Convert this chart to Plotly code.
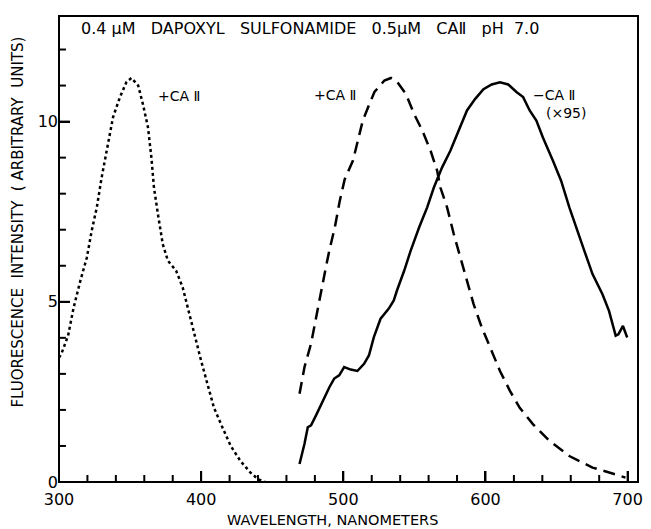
import plotly.graph_objects as go

# Dotted curve: +CA II (excitation-like band)
dot_nm = [300, 301.7, 306.4, 310.3, 315, 319.6, 323, 326.6, 330, 334.7, 338, 342.9, 347.5, 351, 355.7,
          359, 362.6, 365, 366.8, 369.6, 373, 376.6, 382.4, 387, 390.5, 395, 400, 404.5, 409, 415,
          420.8, 427.7, 434.7, 440, 445]
dot_val = [3.45, 3.56, 4.06, 4.84, 5.58, 6.23, 6.97, 7.62, 8.45, 9.38, 10.12, 10.68, 11.1, 11.21, 11.0,
           10.49, 9.84, 9.0, 8.17, 7.43, 6.6, 6.14, 5.86, 5.4, 4.84, 4.1, 3.36, 2.71, 2.06, 1.51,
           1.0, 0.58, 0.26, 0.08, 0.0]

# Dashed curve: +CA II emission
dash_nm = [469.2, 472.7, 477.3, 480.8, 484.3, 487.8, 490.2, 494, 497.5, 501, 506.8, 510.2, 513.7,
           518.4, 521.9, 528.9, 533.5, 538.1, 544, 549.8, 555.6, 561.4, 566, 568.3, 573, 577.7,
           582.3, 587, 591.6, 597.4, 603.2, 610.2, 617.2, 624.1, 633.5, 645, 659, 675.3, 691.6, 698.5]
dash_val = [2.45, 3.19, 3.84, 4.58, 5.32, 5.97, 6.43, 7.06, 7.8, 8.4, 8.92, 9.47, 10.03,
            10.49, 10.82, 11.14, 11.21, 11.09, 10.77, 10.21, 9.75, 9.19, 8.64, 8.17, 7.62, 6.88,
            6.23, 5.58, 4.94, 4.29, 3.73, 3.08, 2.53, 2.06, 1.6, 1.14, 0.72, 0.4, 0.21, 0.12]

# Solid curve: -CA II emission (x95)
sol_nm = [469.2, 472.7, 475, 477.3, 480.8, 485.5, 490.2, 493.6, 497.1, 500.6, 505.2, 509.9, 514.6,
          518, 521.5, 526.2, 532, 535.5, 537.8, 542.8, 547.4, 553.3, 559, 563.7, 569.5, 575.3,
          581.2, 587, 592.8, 598.6, 604.4, 610.2, 616, 621.8, 626.5, 631.1, 635.8, 640.4, 647.4,
          653.2, 659, 663.7, 669.5, 675.3, 682.3, 686.9, 691.6, 693.5, 696.7, 699.7]
sol_val = [0.5, 1.06, 1.52, 1.57, 1.85, 2.26, 2.63, 2.87, 2.96, 3.19, 3.12, 3.08, 3.28,
           3.51, 4.02, 4.53, 4.81, 5.04, 5.32, 5.86, 6.42, 7.06, 7.62, 8.17, 8.73, 9.19,
           9.75, 10.31, 10.63, 10.9, 11.03, 11.09, 11.03, 10.82, 10.68, 10.31, 10.03, 9.56, 8.92,
           8.36, 7.62, 7.06, 6.42, 5.77, 5.21, 4.75, 4.06, 4.1, 4.33, 4.01]

x_major_ticks = [300, 400, 500, 600, 700]
x_minor_ticks = [320, 340, 360, 380, 420, 440, 460, 480, 520, 540, 560, 580,
                 620, 640, 660, 680]
y_major_ticks = [0, 5, 10]
y_minor_ticks = [1, 2, 3, 4, 6, 7, 8, 9, 11, 12]
x_range = [300, 707.3]
y_range = [0, 12.93]

FONT = "DejaVu Sans"
PLOT_W, PLOT_H = 584, 465.5

fig = go.Figure()
fig.add_trace(go.Scatter(x=dot_nm, y=dot_val, mode="lines",
                         line=dict(color="black", width=2.5, dash="dot"), showlegend=False))
fig.add_trace(go.Scatter(x=dash_nm, y=dash_val, mode="lines",
                         line=dict(color="black", width=2.5, dash="12px,7px"), showlegend=False))
fig.add_trace(go.Scatter(x=sol_nm, y=sol_val, mode="lines",
                         line=dict(color="black", width=2.5), showlegend=False))

fig.update_layout(
    width=651, height=529,
    margin=dict(l=59, r=8, t=16, b=47),
    paper_bgcolor="white", plot_bgcolor="white",
    font=dict(family=FONT, color="black"),
    xaxis=dict(range=x_range, tickmode="array", tickvals=x_major_ticks,
               ticks="inside", ticklen=11, tickwidth=2, ticklabelstandoff=6,
               tickcolor="black", showline=False,
               showgrid=False, zeroline=False, tickfont=dict(size=16, family=FONT)),
    yaxis=dict(range=y_range, tickmode="array", tickvals=y_major_ticks,
               ticks="inside", ticklen=11, tickwidth=2,
               tickcolor="black", showline=False,
               showgrid=False, zeroline=False, tickfont=dict(size=16, family=FONT)),
)

# tick marks pointing into the plot (drawn from the tick lists)
for t in x_major_ticks + x_minor_ticks:
    ln = 11 if t in x_major_ticks else 7
    fig.add_shape(type="line", xref="x", yref="y domain", x0=t, x1=t, y0=0, y1=ln / PLOT_H,
                  line=dict(color="black", width=2), layer="above")
for t in y_major_ticks + y_minor_ticks:
    ln = 11 if t in y_major_ticks else 7
    fig.add_shape(type="line", xref="x domain", yref="y", x0=0, x1=ln / PLOT_W, y0=t, y1=t,
                  line=dict(color="black", width=2), layer="above")

# frame around the plot area
fig.add_shape(type="rect", xref="paper", yref="paper", x0=0, x1=1, y0=0, y1=1,
              line=dict(color="black", width=2), fillcolor="rgba(0,0,0,0)", layer="above")

ann_font = dict(family=FONT, size=14, color="black")
sp = "\u00a0\u00a0\u00a0"
fig.add_annotation(x=313.9, y=12.57, xref="x", yref="y", xanchor="left", yanchor="middle",
                   text="0.4\u00a0μM" + sp + "DAPOXYL" + sp + "SULFONAMIDE" + sp + "0.5μM" + sp
                        + "CAⅡ" + sp + "pH" + "\u00a0\u00a07.0",
                   showarrow=False, font=dict(family=FONT, size=16, color="black"))
fig.add_annotation(x=368.3, y=10.71, xanchor="left", yanchor="middle", text="+CA\u00a0Ⅱ",
                   showarrow=False, font=ann_font)
fig.add_annotation(x=477.8, y=10.74, xanchor="left", yanchor="middle", text="+CA\u00a0Ⅱ",
                   showarrow=False, font=ann_font)
fig.add_annotation(x=632, y=10.74, xanchor="left", yanchor="middle", text="−CA\u00a0Ⅱ",
                   showarrow=False, font=ann_font)
fig.add_annotation(x=641, y=10.24, xanchor="left", yanchor="middle", text="(×95)",
                   showarrow=False, font=ann_font)

# Axis titles
fig.add_annotation(x=(335 - 59) / 584, y=-(519 - 481.5) / 465.5, xref="paper", yref="paper",
                   xanchor="center", yanchor="middle", text="WAVELENGTH,\u00a0NANOMETERS",
                   showarrow=False, font=dict(family=FONT, size=14.5, color="black"))
fig.add_annotation(x=(18 - 59) / 584, y=(481.5 - 222) / 465.5, xref="paper", yref="paper",
                   xanchor="center", yanchor="middle", textangle=-90,
                   text="FLUORESCENCE\u00a0\u00a0INTENSITY\u00a0\u00a0(\u00a0ARBITRARY\u00a0\u00a0UNITS)",
                   showarrow=False, font=dict(family=FONT, size=15, color="black"))

fig.write_html("out.html")
